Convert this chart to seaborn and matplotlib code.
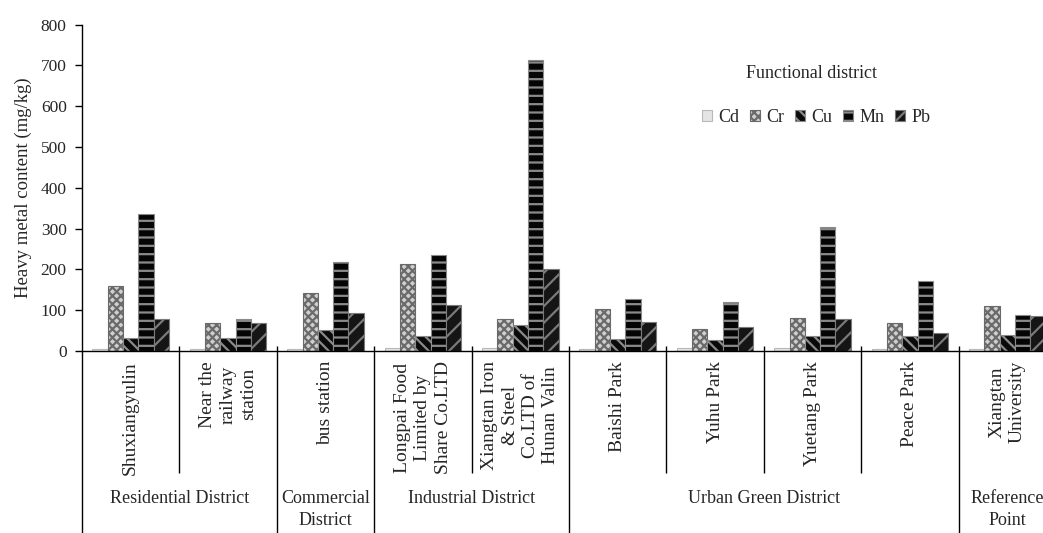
import numpy as np
import pandas as pd
import matplotlib
matplotlib.use("Agg")
import matplotlib.pyplot as plt
import seaborn as sns
from matplotlib.patches import Patch

# ---- data -------------------------------------------------------------
sites = [
    "Shuxiangyulin",
    "Near the\nrailway\nstation",
    "bus station",
    "Longpai Food\nLimited by\nShare Co.LTD",
    "Xiangtan Iron\n& Steel\nCo.LTD of\nHunan Valin",
    "Baishi Park",
    "Yuhu Park",
    "Yuetang Park",
    "Peace Park",
    "Xiangtan\nUniversity",
]
metals = ["Cd", "Cr", "Cu", "Mn", "Pb"]

cd = [4, 4, 4, 6.5, 6.5, 4, 7, 7, 4, 4]
cr = [160, 69, 141, 214, 78, 102, 53, 80, 68, 110]
cu = [33, 32, 52, 37, 63, 30, 28, 36, 36, 38]
mn = [336, 79, 218, 234, 714, 128, 120, 305, 172, 88]
pb = [79, 68, 93, 113, 202, 71, 60, 78, 44, 86]

districts = ["Residential District", "Commercial\nDistrict", "Industrial District",
             "Urban Green District", "Reference\nPoint"]
district_sizes = [2, 1, 2, 4, 1]

yticks = [0, 100, 200, 300, 400, 500, 600, 700, 800]

# ---- styling ------------------------------------------------------------
sns.set_style("white")
plt.rcParams["font.family"] = ["Liberation Serif", "DejaVu Serif"]
plt.rcParams["hatch.linewidth"] = 1.6

face = {"Cd": "#e4e4e4", "Cr": "#cfcfcf", "Cu": "#0a0a0a", "Mn": "#050505", "Pb": "#151515"}
edge = {"Cd": "#b8b8b8", "Cr": "#6a6a6a", "Cu": "#8a8a8a", "Mn": "#8a8a8a", "Pb": "#7a7a7a"}
hatch = {"Cd": "", "Cr": "xxxx", "Cu": "\\\\\\", "Mn": "--", "Pb": "//"}

W, H = 1043, 533
fig = plt.figure(figsize=(W / 100, H / 100), dpi=100)
x0, x1 = 82, 1056          # axes spans past the right edge of the canvas
y_top, y_base = 24.5, 351
ax = fig.add_axes([x0 / W, (H - y_base) / H, (x1 - x0) / W, (y_base - y_top) / H])

values = {"Cd": cd, "Cr": cr, "Cu": cu, "Mn": mn, "Pb": pb}
df = pd.DataFrame(
    [(s, m, values[m][i]) for i, s in enumerate(sites) for m in metals],
    columns=["site", "metal", "value"],
)

sns.barplot(
    data=df, x="site", y="value", hue="metal", order=sites, hue_order=metals,
    palette=[face[m] for m in metals], saturation=1, width=0.785,
    errorbar=None, legend=False, ax=ax,
)

for metal, cont in zip(metals, ax.containers):
    for bar in cont:
        bar.set_facecolor(face[metal])
        bar.set_edgecolor(edge[metal])
        bar.set_hatch(hatch[metal])
        bar.set_linewidth(0.8)

ax.set_xlim(-0.5, len(sites) - 0.5)
ax.set_ylim(0, 800)
ax.set_yticks(yticks)
ax.set_yticklabels([str(t) for t in yticks], fontsize=12.5)
ax.tick_params(axis="y", direction="out", length=5, width=1, pad=6, left=True, color="black")
ax.set_xticks([])
ax.set_xlabel("")
ax.set_ylabel("Heavy metal content (mg/kg)", fontsize=13.5)
ax.yaxis.set_label_coords((32 - x0) / (x1 - x0), 0.5)

for side in ("top", "right"):
    ax.spines[side].set_visible(False)
for side in ("left", "bottom"):
    ax.spines[side].set_color("black")
    ax.spines[side].set_linewidth(1.0)

# ---- category axis below the bars ----------------------------------------
axh = y_base - y_top
def yfrac(py):
    return (y_base - py) / axh

trans = ax.get_xaxis_transform()
group_edges = np.cumsum([0] + district_sizes) - 0.5
for b in np.arange(-0.5, len(sites) + 0.5):
    long = np.any(np.isclose(b, group_edges))
    y_end = yfrac(H + 2) if long else yfrac(473)
    y_start = 0 if b == -0.5 else yfrac(346)
    ax.plot([b, b], [y_start, y_end], transform=trans, color="black", lw=1.0,
            clip_on=False, solid_capstyle="butt")

for i, s in enumerate(sites):
    ax.text(i, yfrac(361), s, transform=trans, rotation=90, ha="center", va="top",
            multialignment="center", fontsize=14, linespacing=1.25)

start = 0
for name, n in zip(districts, district_sizes):
    cx = start + (n - 1) / 2
    ax.text(cx, yfrac(490), name, transform=trans, ha="center", va="top",
            multialignment="center", fontsize=13, linespacing=1.35)
    start += n

# ---- legend -------------------------------------------------------------
fig.text(811 / W, 1 - 73 / H, "Functional district", ha="center", va="center", fontsize=13)
handles = [Patch(facecolor=face[m], edgecolor=edge[m], hatch=hatch[m], linewidth=0.8)
           for m in metals]
fig.legend(handles, metals, loc="center", bbox_to_anchor=(816 / W, 1 - 117 / H),
           ncol=5, frameon=False, fontsize=13, handlelength=0.55, handleheight=0.55,
           handletextpad=0.35, columnspacing=0.6, borderpad=0)

fig.savefig("out.png", dpi=100)
